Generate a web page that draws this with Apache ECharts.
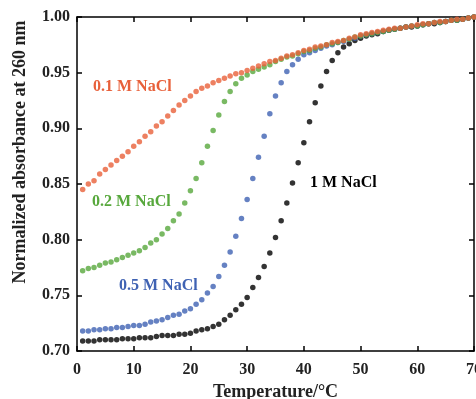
<!DOCTYPE html>
<html>
<head>
<meta charset="utf-8">
<script src="https://cdn.jsdelivr.net/npm/echarts@6/dist/echarts.min.js"></script>
<style>
  html, body { margin: 0; padding: 0; background: #fff; }
  #chart { width: 476px; height: 399px; }
</style>
</head>
<body>
<div id="chart"></div>
<script>
// temperatures, 1..70 degC
const temps = [];
for (let t = 1; t <= 70; t++) temps.push(t);

const xTicks = [0, 10, 20, 30, 40, 50, 60, 70];
const yTicks = [0.70, 0.75, 0.80, 0.85, 0.90, 0.95, 1.00];

// normalized absorbance at 260 nm
const nacl01 = [
  0.845, 0.850, 0.853, 0.859, 0.863, 0.867, 0.871, 0.875, 0.879, 0.884,
  0.888, 0.893, 0.897, 0.902, 0.906, 0.911, 0.916, 0.921, 0.925, 0.929,
  0.933, 0.936, 0.938, 0.941, 0.943, 0.945, 0.947, 0.949, 0.950, 0.952,
  0.954, 0.956, 0.958, 0.960, 0.961, 0.963, 0.965, 0.966, 0.968, 0.970,
  0.971, 0.973, 0.974, 0.975, 0.977, 0.978, 0.979, 0.981, 0.982, 0.984,
  0.985, 0.986, 0.987, 0.988, 0.989, 0.990, 0.990, 0.991, 0.992, 0.993,
  0.994, 0.994, 0.995, 0.996, 0.996, 0.997, 0.998, 0.998, 0.999, 1.000
];
const nacl02 = [
  0.772, 0.774, 0.775, 0.777, 0.779, 0.780, 0.782, 0.784, 0.786, 0.788,
  0.790, 0.793, 0.797, 0.800, 0.805, 0.810, 0.817, 0.823, 0.833, 0.844,
  0.855, 0.869, 0.884, 0.898, 0.912, 0.924, 0.933, 0.940, 0.945, 0.948,
  0.951, 0.953, 0.955, 0.957, 0.960, 0.962, 0.964, 0.965, 0.967, 0.969,
  0.970, 0.972, 0.973, 0.975, 0.976, 0.977, 0.979, 0.980, 0.982, 0.983,
  0.984, 0.985, 0.986, 0.987, 0.988, 0.989, 0.990, 0.991, 0.992, 0.992,
  0.993, 0.994, 0.995, 0.995, 0.996, 0.997, 0.997, 0.998, 0.999, 1.000
];
const nacl05 = [
  0.718, 0.718, 0.719, 0.719, 0.720, 0.720, 0.721, 0.721, 0.722, 0.723,
  0.723, 0.724, 0.726, 0.727, 0.728, 0.730, 0.732, 0.733, 0.736, 0.738,
  0.742, 0.746, 0.752, 0.758, 0.767, 0.777, 0.789, 0.803, 0.819, 0.836,
  0.855, 0.874, 0.893, 0.913, 0.929, 0.941, 0.951, 0.957, 0.962, 0.966,
  0.968, 0.970, 0.972, 0.974, 0.975, 0.977, 0.978, 0.980, 0.981, 0.983,
  0.984, 0.985, 0.986, 0.987, 0.988, 0.989, 0.990, 0.991, 0.992, 0.992,
  0.993, 0.994, 0.995, 0.995, 0.996, 0.997, 0.997, 0.998, 0.999, 1.000
];
const nacl1 = [
  0.709, 0.709, 0.709, 0.710, 0.710, 0.710, 0.710, 0.711, 0.711, 0.711,
  0.712, 0.712, 0.712, 0.713, 0.714, 0.714, 0.714, 0.715, 0.715, 0.716,
  0.718, 0.719, 0.720, 0.722, 0.724, 0.728, 0.732, 0.737, 0.742, 0.748,
  0.757, 0.766, 0.776, 0.788, 0.802, 0.817, 0.833, 0.851, 0.869, 0.887,
  0.906, 0.923, 0.938, 0.951, 0.961, 0.968, 0.973, 0.976, 0.979, 0.981,
  0.983, 0.984, 0.985, 0.987, 0.988, 0.989, 0.990, 0.991, 0.991, 0.992,
  0.993, 0.994, 0.994, 0.995, 0.996, 0.997, 0.997, 0.998, 0.999, 1.000
];

const seriesNames = ["1 M NaCl", "0.5 M NaCl", "0.2 M NaCl", "0.1 M NaCl"];
const seriesColors = ["#000000", "#3f62b3", "#57a83c", "#e8603a"];
const seriesValues = [nacl1, nacl05, nacl02, nacl01];

const font = "'Liberation Serif', 'DejaVu Serif', serif";

let myChart = echarts.init(document.getElementById("chart"));

function pairs(vals) {
  return temps.map((t, i) => [t, vals[i]]);
}

// axis used on all four sides, ticks pointing inward
function xAxisCfg(pos, showLabel) {
  return {
    type: "value",
    position: pos,
    min: xTicks[0],
    max: xTicks[xTicks.length - 1],
    interval: 10,
    name: showLabel ? "Temperature/°C" : "",
    nameLocation: "middle",
    nameGap: 28,
    nameTextStyle: { fontFamily: font, fontWeight: "bold", fontSize: 18, color: "#222" },
    axisLine: { show: true, onZero: false, lineStyle: { color: "#000", width: 1.5 } },
    axisTick: { show: true, inside: true, length: 5, lineStyle: { color: "#000", width: 1.5 } },
    axisLabel: { show: showLabel, fontFamily: font, fontWeight: "bold", fontSize: 16, color: "#222", margin: 11 },
    splitLine: { show: false }
  };
}
function yAxisCfg(pos, showLabel) {
  return {
    type: "value",
    position: pos,
    min: yTicks[0],
    max: yTicks[yTicks.length - 1],
    interval: 0.05,
    axisLine: { show: true, onZero: false, lineStyle: { color: "#000", width: 1.5 } },
    axisTick: { show: true, inside: true, length: 5, lineStyle: { color: "#000", width: 1.5 } },
    axisLabel: {
      show: showLabel, fontFamily: font, fontWeight: "bold", fontSize: 16, color: "#222", margin: 7,
      formatter: v => v.toFixed(2)
    },
    splitLine: { show: false }
  };
}

let option = {
  animation: false,
  backgroundColor: "#fff",
  grid: { left: 77, right: 2, top: 17, bottom: 48, containLabel: false, outerBoundsMode: "none" },
  xAxis: [xAxisCfg("bottom", true), xAxisCfg("top", false)],
  yAxis: [yAxisCfg("left", true), yAxisCfg("right", false)],
  series: seriesNames.map((name, i) => ({
    name: name,
    type: "scatter",
    symbol: "circle",
    symbolSize: 5.5,
    itemStyle: { color: seriesColors[i] },
    data: pairs(seriesValues[i])
  })),
  graphic: [
    {
      type: "text", x: 20, y: 152, rotation: Math.PI / 2,
      style: {
        text: "Normalized absorbance at 260 nm", fill: "#222",
        font: "bold 18px " + font, align: "center", verticalAlign: "middle"
      }
    },
    { type: "text", left: 93, top: 79, style: { text: "0.1 M NaCl", fill: seriesColors[3], font: "bold 16px " + font } },
    { type: "text", left: 92, top: 194, style: { text: "0.2 M NaCl", fill: seriesColors[2], font: "bold 16px " + font } },
    { type: "text", left: 119, top: 278, style: { text: "0.5 M NaCl", fill: seriesColors[1], font: "bold 16px " + font } },
    { type: "text", left: 310, top: 175, style: { text: "1 M NaCl", fill: seriesColors[0], font: "bold 16px " + font } }
  ]
};

myChart.setOption(option);
window.addEventListener("resize", () => {
  myChart.resize();
});
</script>
</body>
</html>
